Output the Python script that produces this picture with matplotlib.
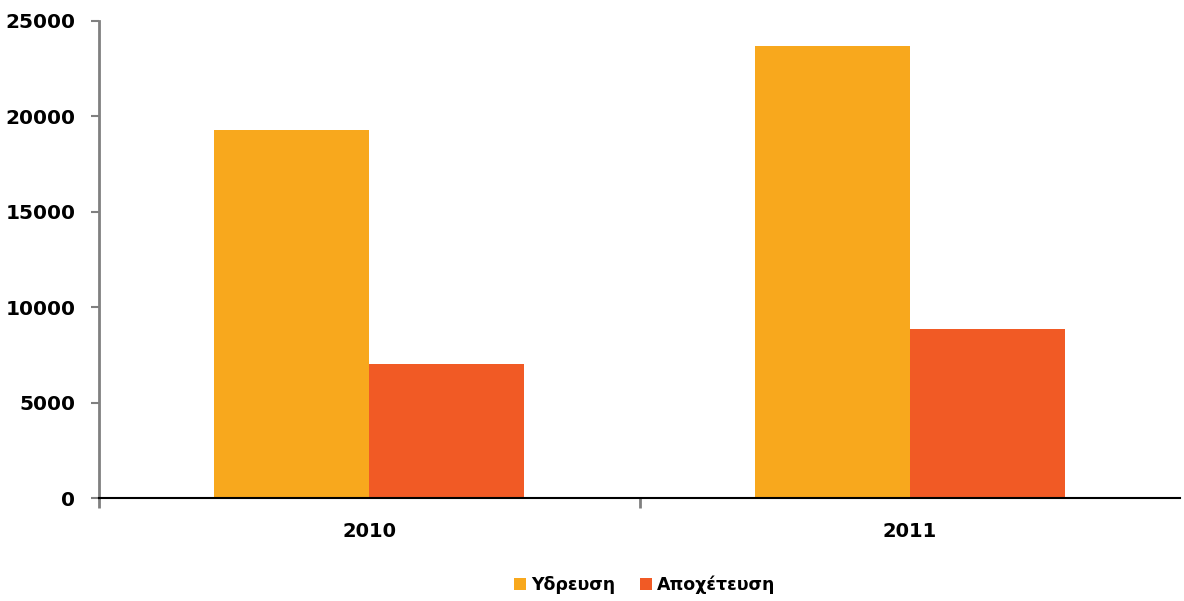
import numpy as np
import matplotlib.pyplot as plt

# Data
years = ['2010', '2011']
water_supply = [19300, 23700]   # Υδρευση
sewerage = [7000, 8850]         # Αποχέτευση
series_labels = ['Υδρευση', 'Αποχέτευση']
colors = ['#F8A81D', '#F15A25']

fig = plt.figure(figsize=(11.84, 6.01), dpi=100)
ax = fig.add_axes([99 / 1184, 103 / 601, 1081 / 1184, 477 / 601])

x = np.arange(len(years))
width = 0.287
ax.bar(x - width / 2, water_supply, width, color=colors[0], label=series_labels[0])
ax.bar(x + width / 2, sewerage, width, color=colors[1], label=series_labels[1])

ax.set_xlim(-0.5, 1.5)
ax.set_ylim(0, 25000)
ax.set_yticks(np.arange(0, 25001, 5000))

# Category labels without ticks, boundary ticks as minor
ax.set_xticks(x)
ax.set_xticklabels(years)
ax.tick_params(axis='x', which='major', length=0, pad=17)
ax.set_xticks([-0.5, 0.5], minor=True)
ax.tick_params(axis='x', which='minor', length=7, width=2, color='#808080')
ax.tick_params(axis='y', length=6, width=1.5, color='#808080', pad=11)

for lab in ax.get_xticklabels():
    lab.set_fontweight('bold')
    lab.set_fontsize(14)
for lab in ax.get_yticklabels():
    lab.set_fontweight('bold')
    lab.set_fontsize(14.5)

ax.spines['top'].set_visible(False)
ax.spines['right'].set_visible(False)
ax.spines['left'].set_color('#808080')
ax.spines['left'].set_linewidth(2)
ax.spines['bottom'].set_color('black')
ax.spines['bottom'].set_linewidth(1.5)
ax.spines['bottom'].set_zorder(5)

leg = fig.legend(loc='center', bbox_to_anchor=(645 / 1184, 1 - 585 / 601), ncol=2,
                 frameon=False, handlelength=0.7, handleheight=0.7,
                 handletextpad=0.3, columnspacing=1.4,
                 prop={'weight': 'bold', 'size': 12.5})

fig.savefig('out.png', dpi=100)
